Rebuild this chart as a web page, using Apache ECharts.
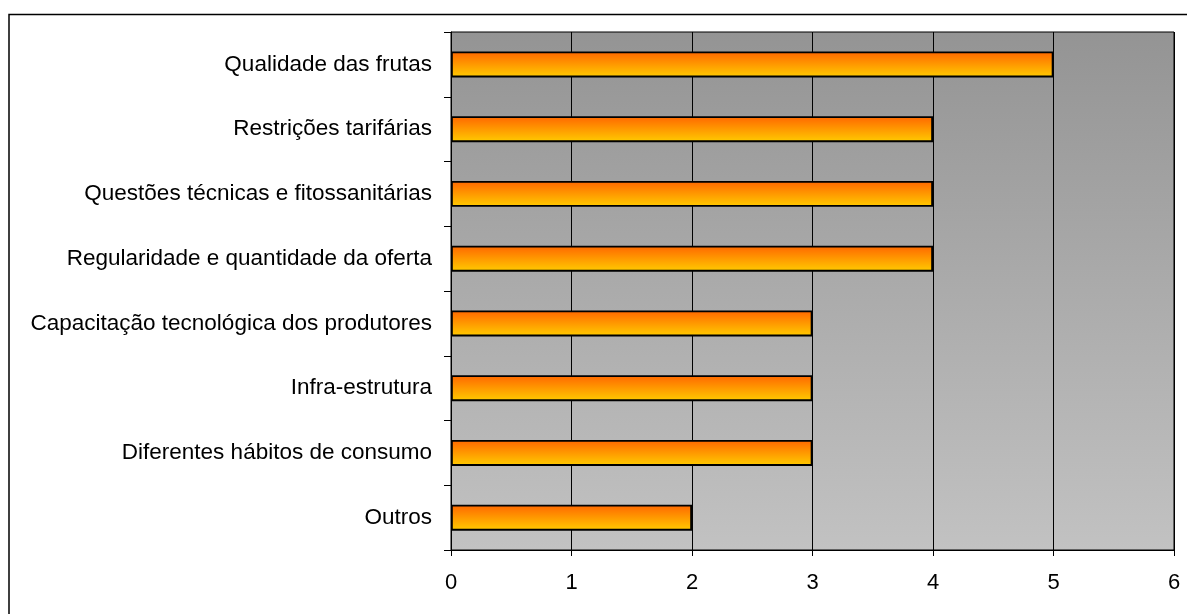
<!DOCTYPE html>
<html><head><meta charset="utf-8">
<script src="https://cdn.jsdelivr.net/npm/echarts@6/dist/echarts.min.js"></script>
<style>html,body{margin:0;padding:0;background:#fff}#c{width:1187px;height:614px}</style>
</head><body><div id="c"></div>
<script>
const categories = ["Qualidade das frutas","Restrições tarifárias","Questões técnicas e fitossanitárias","Regularidade e quantidade da oferta","Capacitação tecnológica dos produtores","Infra-estrutura","Diferentes hábitos de consumo","Outros"];
const values = [5,4,4,4,3,3,3,2];
const xTicks = [0,1,2,3,4,5,6];

const chart = echarts.init(document.getElementById('c'), null, {renderer:'canvas'});
const font = "'Liberation Sans', Arial, sans-serif";
chart.setOption({
  animation:false,
  backgroundColor:'#ffffff',
  graphic:[{type:'rect', shape:{x:9,y:14.5,width:1200,height:700}, style:{fill:'none',stroke:'#000',lineWidth:1.5}, z:-1}],
  grid:{left:451,right:13,top:32,bottom:64,show:true,borderColor:'#000',borderWidth:1,
    backgroundColor:{type:'linear',x:0,y:0,x2:0,y2:1,colorStops:[{offset:0,color:'#949494'},{offset:1,color:'#c2c2c2'}]}},
  xAxis:{type:'value',min:0,max:6,interval:1,
    axisLine:{show:true,lineStyle:{color:'#000',width:1}},
    axisTick:{show:true,length:6,lineStyle:{color:'#000'}},
    splitLine:{show:true,lineStyle:{color:'#000',width:1}},
    axisLabel:{color:'#000',fontSize:22,fontFamily:font,margin:22,formatter:(v)=>String(v)}},
  yAxis:{type:'category',data:categories,inverse:true,
    axisLine:{show:true,lineStyle:{color:'#000',width:1}},
    axisTick:{show:true,length:7,inside:false,lineStyle:{color:'#000'}},
    splitLine:{show:false},
    axisLabel:{color:'#000',fontSize:22.5,fontFamily:font,margin:19}},
  series:[{type:'bar',data:values,barWidth:26,
    itemStyle:{borderColor:'#000',borderWidth:1.8,
      color:{type:'linear',x:0,y:0,x2:0,y2:1,colorStops:[{offset:0,color:'#ff6600'},{offset:1,color:'#ffcc00'}]}}}]
});
</script></body></html>
